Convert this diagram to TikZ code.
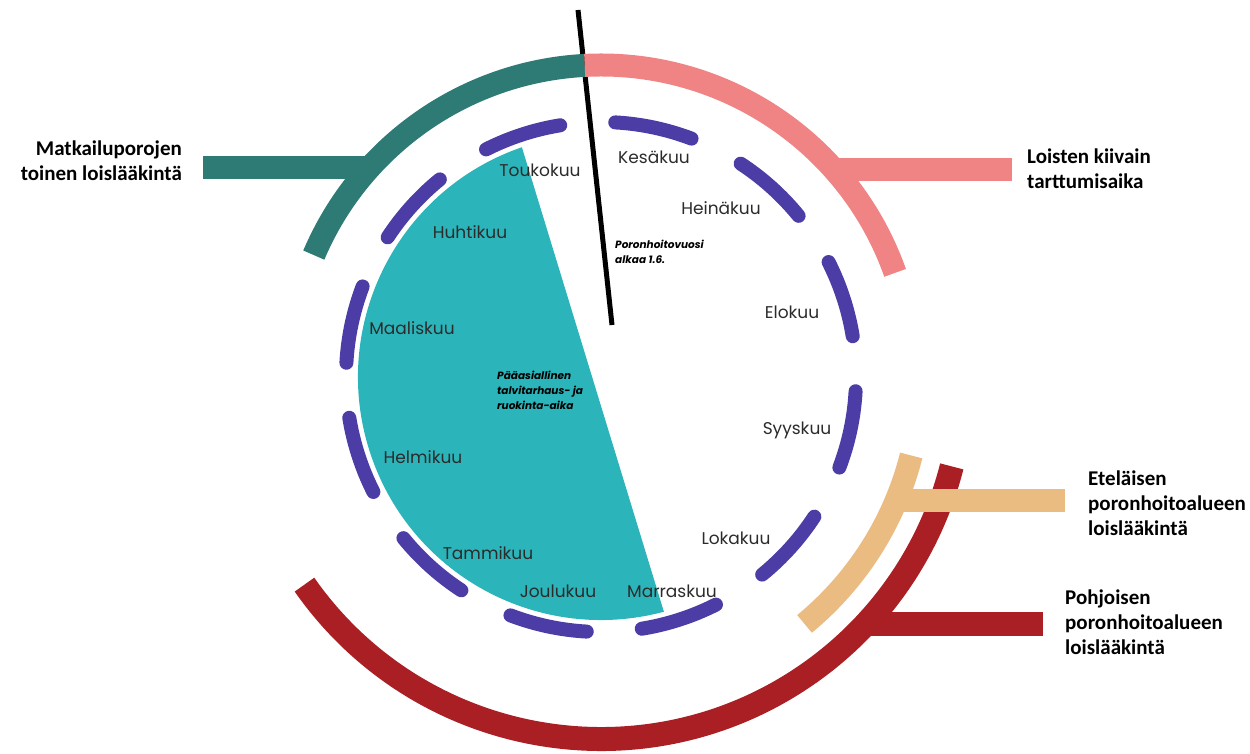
\documentclass[tikz,border=0pt]{standalone}
\usepackage{fontspec}
\setmainfont{Poppins}
\newfontfamily\lblfont{Carlito}
\usetikzlibrary{calc}

\definecolor{kuuteal}{HTML}{2BB4B9}
\definecolor{kuupurple}{HTML}{4B3DA5}
\definecolor{kuudark}{HTML}{2E7B76}
\definecolor{kuupink}{HTML}{F08383}
\definecolor{kuutan}{HTML}{EBBC82}
\definecolor{kuured}{HTML}{A91F24}
\definecolor{kuutext}{HTML}{2B2B2B}

\begin{document}
\begin{tikzpicture}[x=1pt, y=1pt,
    month/.style={font=\fontsize{17}{20}\selectfont, text=kuutext, inner sep=0pt},
    note/.style={font=\fontsize{10.5}{15}\selectfont\bfseries\itshape, align=left, inner sep=0pt, anchor=north west},
    lbl/.style={font=\lblfont\bfseries\fontsize{21}{25}\selectfont, inner sep=0pt},
    band/.style={line width=23pt}]

    \useasboundingbox (0,0) rectangle (1250,753);
    \coordinate (c) at (601,376);

    % ruokinta-aika
    \fill[kuuteal] ([shift={(109:243)}]c) arc[start angle=109, end angle=285, radius=243] -- cycle;

    % kuukausien kaaret
    \foreach \k [evaluate=\k as \a using 9.2+30*\k, evaluate=\k as \b using 26.8+30*\k] in {0,...,11}
        \draw[kuupurple, line width=14pt, line cap=round] ([shift={(\a:255)}]c) arc[start angle=\a, end angle=\b, radius=255];

    \draw[line width=5pt] (578,743) coordinate (vtop) -- (612,428) coordinate (vbot);

    \foreach \nm/\x/\y in {Toukokuu/540/583, Kesäkuu/654/596, Heinäkuu/721/545, Elokuu/792/441,
                          Syyskuu/797/323, Lokakuu/736/215, Marraskuu/672/162, Joulukuu/558/162,
                          Tammikuu/488/200, Helmikuu/423/296, Maaliskuu/412/425, Huhtikuu/470/521}
        \node[month] (\nm) at (\x,\y) {\nm};

    \node[note] (vuosi) at (615,513) {Poronhoitovuosi\\alkaa 1.6.};
    \node[note] (talvi) at (497,382) {Pääasiallinen\\talvitarhaus- ja\\ruokinta-aika};

    % selitteet
    \node[lbl, anchor=east, align=right] (matka) at (182,592) {Matkailuporojen\\toinen loislääkintä};
    \node[lbl, anchor=west, align=left] (loiset) at (1027,584) {Loisten kiivain\\tarttumisaika};
    \node[lbl, anchor=west, align=left] (etela) at (1088,250) {Eteläisen\\poronhoitoalueen\\loislääkintä};
    \node[lbl, anchor=west, align=left] (pohjoinen) at (1065,131) {Pohjoisen\\poronhoitoalueen\\loislääkintä};

    % ulkokaaret
    \draw[band, kuudark] ([shift={(157:312)}]c) arc[start angle=157, end angle=93, radius=312];
    \draw[band, kuupink] ([shift={(93:312)}]c) arc[start angle=93, end angle=19.5, radius=312];
    \draw[band, kuured, line width=24pt] ([shift={(215:362)}]c) arc[start angle=215, end angle=345.7, radius=362];

    \coordinate (tj) at ([shift={(137.7:312)}]c);
    \coordinate (pj) at ([shift={(41.6:312)}]c);
    \coordinate (ej) at ([shift={(-22.8:320)}]c);
    \coordinate (rj) at ([shift={(-43:362)}]c);

    \draw[band, kuudark, shorten >=21pt] (tj) -- (tj -| matka.east);
    \draw[band, kuupink, shorten >=15pt] (pj) -- (pj -| loiset.west);
    \draw[band, kuured, line width=24pt, shorten >=22pt] (rj) -- (rj -| pohjoinen.west);

    \draw[band, kuutan] ([shift={(-50.5:320)}]c) arc[start angle=-50.5, end angle=-14.2, radius=320];
    \draw[band, kuutan, shorten >=23pt] (ej) -- (ej -| etela.west);

\end{tikzpicture}
\end{document}
